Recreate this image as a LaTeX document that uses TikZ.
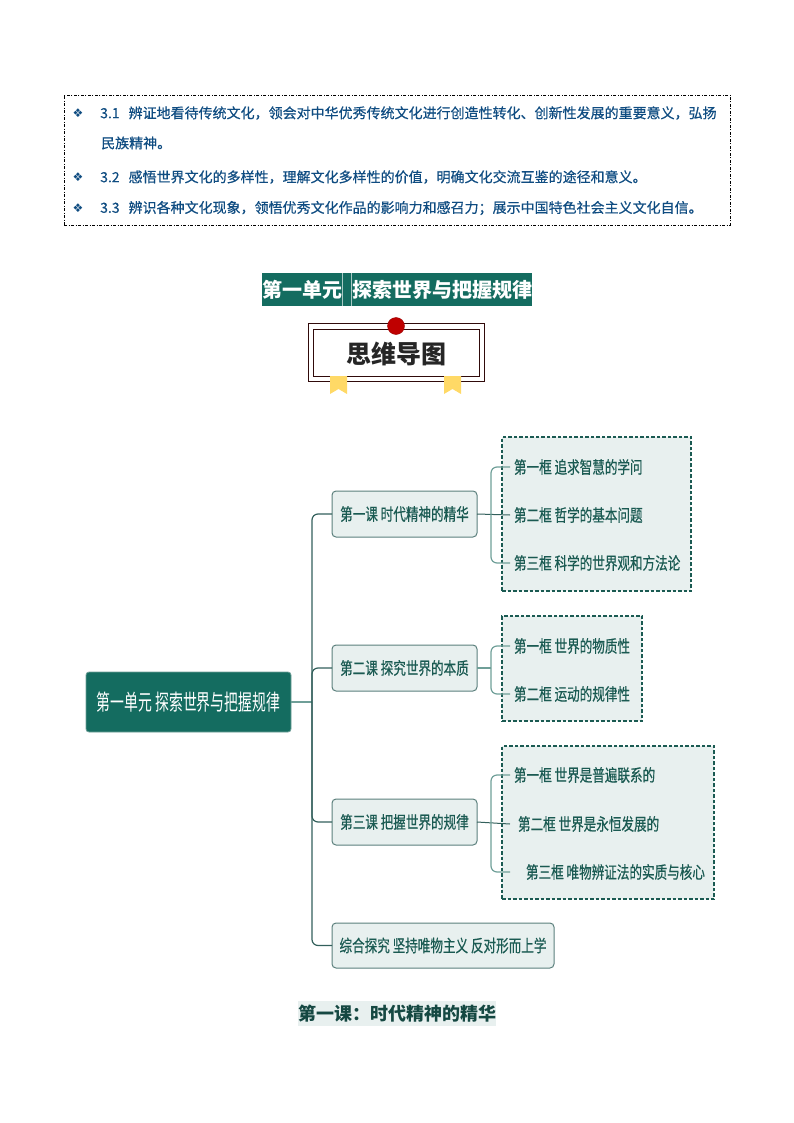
\documentclass[tikz,border=0pt]{standalone}
\usepackage{fontspec}
\setmainfont{Noto Sans CJK SC}
\newfontfamily\mapfont[FakeStretch=0.74,FakeBold=0.5]{Noto Sans CJK SC}
\newfontfamily\rootfont[FakeStretch=0.63]{Noto Sans CJK SC}
\newfontfamily\goalfont[FakeBold=0.6]{Noto Sans CJK SC}
\newfontfamily\bulletfont{DejaVu Sans}
\definecolor{goalblue}{HTML}{0F4C81}
\definecolor{deepteal}{HTML}{146C60}
\definecolor{paleteal}{HTML}{E8F0EF}
\definecolor{inkteal}{HTML}{1A5A52}
\definecolor{linkteal}{HTML}{6F9F98}
\definecolor{trunkteal}{HTML}{33605C}
\definecolor{framered}{HTML}{300A0A}
\definecolor{ribbon}{HTML}{FFD966}
\tikzset{
  goal/.style={anchor=west,inner sep=0pt,text=goalblue,font=\goalfont\fontsize{14}{14}\selectfont},
  bullet/.style={inner sep=0pt,text=goalblue,font=\bulletfont\fontsize{12}{12}\selectfont},
  root/.style={anchor=north west,rectangle,rounded corners=3pt,fill=deepteal,draw=linkteal,line width=.8pt,outer sep=0pt,
    minimum width=205pt,minimum height=60pt,inner sep=0pt,text=white,font=\rootfont\fontsize{22}{22}\selectfont},
  lesson/.style={anchor=north west,rectangle,rounded corners=4pt,fill=paleteal,draw=trunkteal!80,line width=1pt,outer sep=0pt,
    minimum height=46pt,inner sep=0pt,text=inkteal,font=\mapfont\fontsize{17}{17}\selectfont},
  group/.style={anchor=north west,rectangle,fill=paleteal,draw=inkteal,line width=1.5pt,dash pattern=on 3.5pt off 2pt,inner sep=0pt,outer sep=0pt},
  leaf/.style={anchor=west,inner xsep=4pt,inner ysep=0pt,outer sep=0pt,text=inkteal,font=\mapfont\fontsize{17}{17}\selectfont},
  link/.style={draw=linkteal,line width=1.4pt},
  trunk/.style={draw=trunkteal,line width=1.2pt,rounded corners=6pt},
}
\begin{document}
\begin{tikzpicture}[x=1pt,y=-1pt]
\useasboundingbox (0,0) rectangle (794,1123);
%%% The goals box at the top
\node (goalbox) [anchor=north west,draw=black,line width=.6pt,dash pattern=on 3pt off 1.5pt on 1pt off 1.5pt,outer sep=0pt,
  minimum width=666pt,minimum height=130pt,inner sep=0pt] at (64,95) {};
\node (mark1) [bullet] at (78,113) {❖};
\node (mark2) [bullet] at (78,177) {❖};
\node (mark3) [bullet] at (78,208) {❖};
\node (goal1) [goal] at (100,113) {3.1\hspace{9pt}辨证地看待传统文化，领会对中华优秀传统文化进行创造性转化、创新性发展的重要意义，弘扬};
\node (goal1b) [goal] at (101,143) {民族精神。};
\node (goal2) [goal] at (100,177) {3.2\hspace{9pt}感悟世界文化的多样性，理解文化多样性的价值，明确文化交流互鉴的途径和意义。};
\node (goal3) [goal] at (100,208) {3.3\hspace{9pt}辨识各种文化现象，领悟优秀文化作品的影响力和感召力；展示中国特色社会主义文化自信。};
%%% The unit title
\fill[deepteal] (262,273) rectangle (532,306);
\draw[paleteal!70!deepteal,line width=.5pt] (342,273) -- (342,306) (351,273) -- (351,306);
\node (unit1) [inner sep=0pt,text=white,font=\bfseries\fontsize{20}{20}\selectfont] at (302,290) {第一单元};
\node (unit2) [inner sep=0pt,text=white,font=\bfseries\fontsize{20}{20}\selectfont] at (442,290) {探索世界与把握规律};
%%% The mind map label
\draw[framered,line width=.8pt] (308,323) rectangle (484,381);
\draw[framered,line width=.8pt] (313,329) rectangle (479,376);
\fill[ribbon] (330,376) -- (347,376) -- (347,394) -- (338.5,389) -- (330,394) -- cycle;
\fill[ribbon] (444,376) -- (461,376) -- (461,394) -- (452.5,389) -- (444,394) -- cycle;
\filldraw[fill=red!75!black,draw=red!60!black] (396,326) circle (8.5pt);
\node (maptitle) [inner sep=0pt,text=black!85,font=\bfseries\fontsize{25}{25}\selectfont] at (396,354) {思维导图};
%%% The dashed groups behind the leaves
\node (groupa) [group,minimum width=189pt,minimum height=154pt] at (502,437) {};
\node (groupb) [group,minimum width=140pt,minimum height=105pt] at (502,616) {};
\node (groupc) [group,minimum width=212pt,minimum height=153pt] at (502,746) {};
%%% The root and the lessons
\node (root) [root] at (86,672) {第一单元 探索世界与把握规律};
\node (lessona) [lesson,minimum width=145pt] at (332,491) {第一课 时代精神的精华};
\node (lessonb) [lesson,minimum width=145pt] at (332,645) {第二课 探究世界的本质};
\node (lessonc) [lesson,minimum width=145pt] at (332,799) {第三课 把握世界的规律};
\node (lessond) [lesson,minimum width=222pt,minimum height=45pt] at (332,923) {综合探究 坚持唯物主义 反对形而上学};
%%% The leaves
\node (leafa1) [leaf] at (510,467) {第一框 追求智慧的学问};
\node (leafa2) [leaf] at (510,515) {第二框 哲学的基本问题};
\node (leafa3) [leaf] at (510,563) {第三框 科学的世界观和方法论};
\node (leafb1) [leaf] at (510,646) {第一框 世界的物质性};
\node (leafb2) [leaf] at (510,694) {第二框 运动的规律性};
\node (leafc1) [leaf] at (510,775) {第一框 世界是普遍联系的};
\node (leafc2) [leaf,inner xsep=8pt] at (510,824) {第二框 世界是永恒发展的};
\node (leafc3) [leaf,inner xsep=16pt] at (510,872) {第三框 唯物辨证法的实质与核心};
%%% The connectors
\coordinate (fork) at (312,702);
\coordinate (forka) at (491,514);
\coordinate (forkb) at (491,668);
\coordinate (forkc) at (491,822);
\draw[link] (root.east |- fork) -- (fork);
\foreach \name in {lessona,lessonb,lessonc,lessond}
  \draw[trunk] (fork) |- (\name.west);
\draw[link,draw=trunkteal,line width=1pt] (lessona.east) -- (leafa2.west);
\draw[link] (lessonb.east) -- (forkb);
\draw[link,draw=trunkteal,line width=1pt] (lessonc.east) -- (leafc2.west);
\foreach \name in {leafa1,leafa3}
  \draw[trunk,draw=linkteal] (forka) |- (\name.west);
\foreach \name in {leafb1,leafb2}
  \draw[trunk,draw=linkteal] (forkb) |- (\name.west);
\foreach \name in {leafc1,leafc3}
  \draw[trunk,draw=linkteal] (forkc) |- (\name.west);
%%% The heading below the map
\node (heading) [anchor=north west,fill=paleteal,minimum width=198pt,minimum height=25pt,inner sep=0pt,outer sep=0pt,
  text=inkteal!80!black,font=\bfseries\fontsize{18}{18}\selectfont] at (298,1001) {第一课：时代精神的精华};
\end{tikzpicture}
\end{document}
